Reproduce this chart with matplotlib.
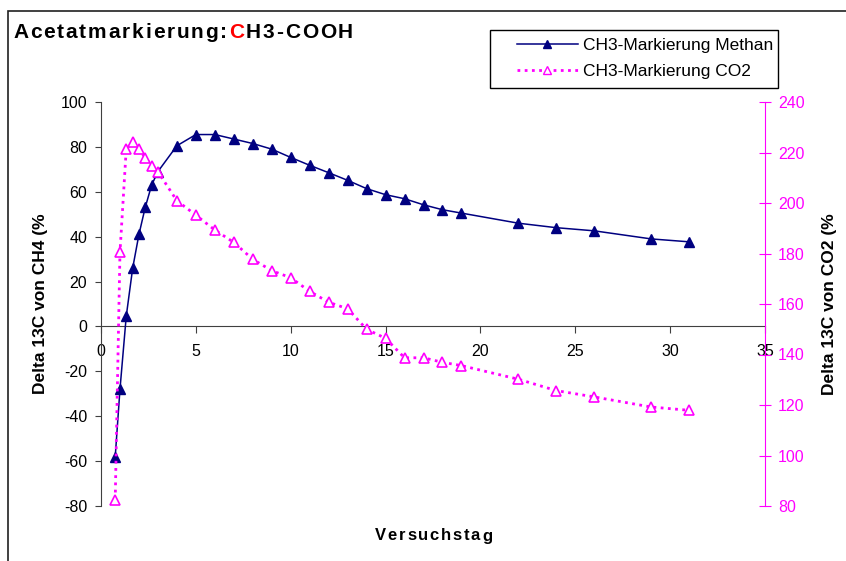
import numpy as np
import matplotlib.pyplot as plt
from matplotlib.patches import Rectangle
from matplotlib.lines import Line2D

plt.rcParams['font.family'] = ['Liberation Sans', 'DejaVu Sans']
plt.rcParams['axes.unicode_minus'] = False

# data
tage = [0.75, 1, 1.33, 1.67, 2, 2.33, 2.67, 3, 4, 5, 6, 7, 8, 9, 10, 11, 12, 13,
        14, 15, 16, 17, 18, 19, 22, 24, 26, 29, 31]
ch4_methan = [-58, -28, 4.5, 26, 41, 53, 63, 69, 80.5, 85.5, 85.5, 83.5, 81.5, 79,
              75.3, 71.8, 68.5, 65.1, 61.4, 58.7, 56.9, 54.2, 52, 50.5, 46, 44,
              42.6, 39, 37.7]
ch4_co2 = [82.5, 180.5, 221.3, 224, 221.3, 218, 214.7, 212.4, 200.9, 195.2, 189.3,
           184.4, 177.7, 173.2, 170.4, 165, 160.7, 158.1, 150, 146.4, 138.7, 138.7,
           136.9, 135.6, 130.2, 125.7, 123.2, 119.2, 117.9]
x_ticks = [0, 5, 10, 15, 20, 25, 30, 35]
y_left_ticks = [-80, -60, -40, -20, 0, 20, 40, 60, 80, 100]
y_right_ticks = [80, 100, 120, 140, 160, 180, 200, 220, 240]

W, H = 846, 561
NAVY = '#000080'
MAG = '#FF00FF'

fig = plt.figure(figsize=(W / 100, H / 100), dpi=100)
ax = fig.add_axes([101 / W, 1 - 506 / H, 664 / W, 404 / H])
ax2 = ax.twinx()

ax.plot(tage, ch4_methan, color=NAVY, lw=1.1, marker='^', ms=7,
        mfc=NAVY, mec=NAVY, zorder=3)
ax2.plot(tage, ch4_co2, color=MAG, lw=2, ls=(0, (1, 1.6)), marker='^', ms=7,
         mfc='white', mec=MAG, mew=1.2, zorder=3)

ax.set_xlim(0, 35)
ax.set_ylim(-80, 100)
ax2.set_ylim(80, 240)
ax.set_xticks(x_ticks)
ax.set_yticks(y_left_ticks)
ax2.set_yticks(y_right_ticks)

for a in (ax, ax2):
    a.spines['top'].set_visible(False)
    a.patch.set_visible(False)
ax.spines['right'].set_visible(False)
ax.spines['bottom'].set_position(('data', 0))
ax.spines['bottom'].set_color('#404040')
ax.spines['left'].set_color('#404040')
ax2.spines['bottom'].set_visible(False)
ax2.spines['left'].set_visible(False)
ax2.spines['right'].set_color(MAG)

ax.tick_params(axis='x', direction='out', length=5, pad=8, labelsize=11.5,
               color='#404040')
ax.tick_params(axis='y', direction='out', length=4, pad=6, labelsize=11.5,
               color='#404040')
ax2.tick_params(axis='y', direction='inout', length=9, pad=5, labelsize=11.5,
                color=MAG, labelcolor=MAG)

ax.set_ylabel('Delta 13C von CH4 (%', fontsize=12.5, fontweight='bold', labelpad=9)
ax2.set_ylabel('Delta 13C von CO2 (%', fontsize=12.5, fontweight='bold', labelpad=12)

renderer = fig.canvas.get_renderer()


def spaced_text(s, x0, x1, y, colors, size):
    # draw letters one by one so the word fills x0..x1 (pixel coords)
    parts = []
    for ch, c in zip(s, colors):
        t = fig.text(0, 1 - y / H, ch, color=c, fontsize=size,
                     fontweight='bold', va='center', ha='left')
        parts.append(t)
    widths = [t.get_window_extent(renderer).width for t in parts]
    gap = ((x1 - x0) - sum(widths)) / max(len(parts) - 1, 1)
    x = x0
    for t, w in zip(parts, widths):
        t.set_x(x / W)
        x += w + gap


titel = 'Acetatmarkierung:CH3-COOH'
farben = ['black'] * len(titel)
farben[titel.index('C', 10)] = '#FF0000'
spaced_text(titel, 13, 353, 33, farben, 15)
spaced_text('Versuchstag', 375, 492, 536, ['black'] * 11, 12)

# chart frame
fig.patches.append(Rectangle((8 / W, -0.1), 1.2, (1 - 11 / H) + 0.1,
                             transform=fig.transFigure, fill=False,
                             ec='#202020', lw=1.2))

# legend frame
fig.patches.append(Rectangle((490 / W, 1 - 88 / H), 288 / W, 58 / H,
                             transform=fig.transFigure, fill=True, fc='white',
                             ec='black', lw=1.0, zorder=4))

handles = [
    Line2D([], [], color=NAVY, lw=1.1, marker='^', ms=6, mfc=NAVY, mec=NAVY),
    Line2D([], [], color=MAG, lw=2, ls=(0, (1, 1.6)), marker='^', ms=6,
           mfc='white', mec=MAG),
]
leg = fig.legend(handles, ['CH3-Markierung Methan', 'CH3-Markierung CO2'],
                 loc='upper left', bbox_to_anchor=(517 / W, 1 - 38 / H),
                 fontsize=12.5, frameon=False, handlelength=3.5,
                 handletextpad=0.3, borderpad=0, labelspacing=0.6,
                 borderaxespad=0)
leg.set_zorder(5)

fig.savefig('out.png', dpi=100)
